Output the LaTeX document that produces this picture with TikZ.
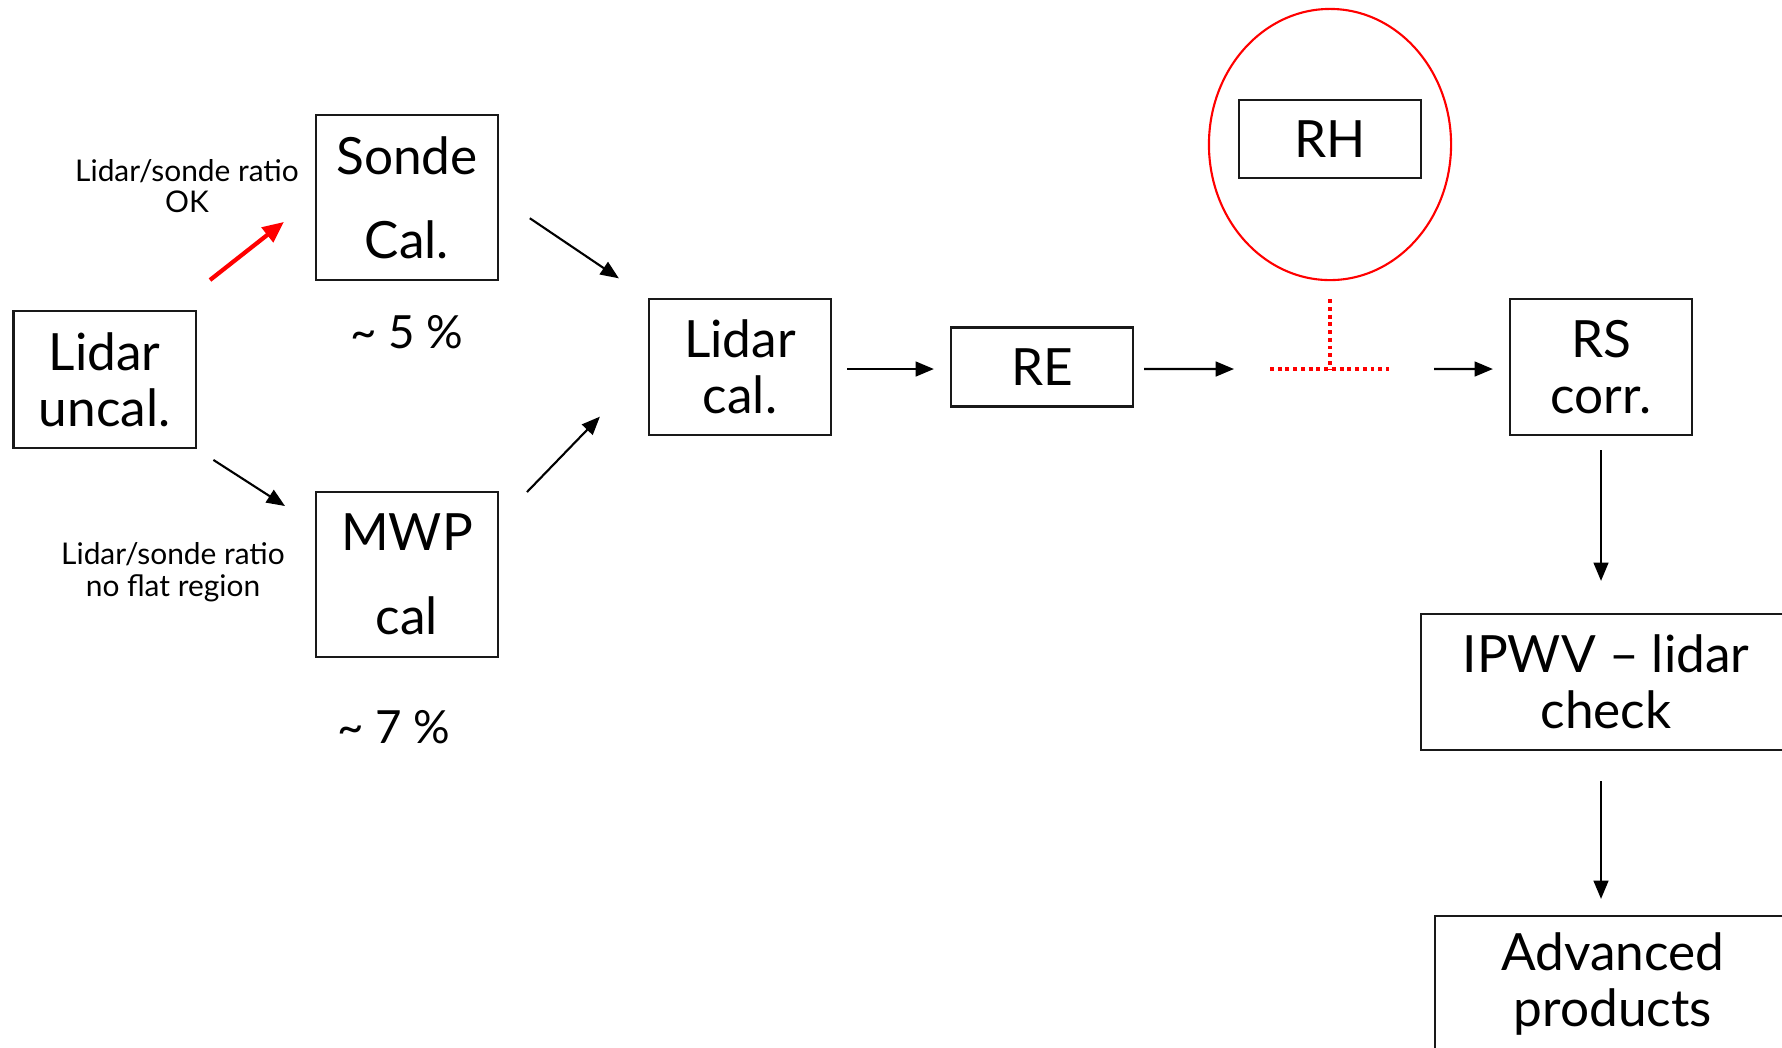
\documentclass[tikz,border=0pt]{standalone}
\usepackage{fontspec}
\setmainfont{Lato}
\usetikzlibrary{arrows.meta, shapes.geometric}

\begin{document}
\begin{tikzpicture}[x=0.01cm, y=-0.01cm,
  box/.style={draw=black!90, line width=0.6pt, minimum width=1.82cm, align=center, inner sep=0pt, font=\fontsize{14.6}{16}\selectfont},
  tallbox/.style={box, minimum height=1.65cm, font=\fontsize{14.6}{24}\selectfont},
  note/.style={align=center, font=\fontsize{8.5}{9}\selectfont},
  pct/.style={font=\fontsize{13}{13}\selectfont},
  arr/.style={-{Triangle[length=5.2pt,width=4.2pt]}, line width=0.6pt},
  redarr/.style={-{Triangle[length=6pt,width=5.2pt]}, red, line width=1.2pt},
  reddot/.style={red, line width=1.4pt, dash pattern=on 1.1pt off 1.1pt}]
\useasboundingbox (0,0) rectangle (1782,1047);
\node (uncal) at (104.5,379.5) [box, minimum height=1.37cm] {Lidar\\uncal.};
\node (sonde) at (407,197.5) [tallbox] {Sonde\\Cal.};
\node (mwp) at (407,574.5) [tallbox] {MWP\\cal};
\node (lcal) at (740,367) [box, minimum height=1.36cm] {Lidar\\cal.};
\node (re) at (1042,367) [box, minimum height=0.79cm] {RE};
\node (rh) at (1330,139) [box, minimum height=0.78cm] {RH};
\node (rhring) at (1330,144.5) [ellipse, draw=red, line width=0.6pt, minimum width=2.42cm, minimum height=2.71cm] {};
\node (rs) at (1601,367) [box, minimum height=1.36cm] {RS\\corr.};
\node (ipwv) at (1606,682) [box, minimum width=3.70cm, minimum height=1.36cm] {IPWV -- lidar\\check};
\node (adv) at (1613,984) [box, minimum width=3.56cm, minimum height=1.36cm] {Advanced\\products};
\node (oknote) at (187,186) [note] {Lidar/sonde ratio\\OK};
\node (flatnote) at (173,572) [note] {Lidar/sonde ratio\\no flat region};
\node (sondepct) at (407,332) [pct] {\textasciitilde{} 5 \%};
\node (mwppct) at (394,727) [pct] {\textasciitilde{} 7 \%};
\coordinate (okfrom) at (210,280);
\coordinate (flatto) at (285,506);
\coordinate (mwpfrom) at (527,492);
\coordinate (gapleft) at (1270,369);
\coordinate (gapright) at (1389,369);
\coordinate (gapmid) at (1330,369);
\draw [redarr, shorten >=0.395cm] (okfrom) -- (sonde.west);
\draw [arr, shorten <=0.2cm] (uncal.south east) -- (flatto);
\draw [arr, shorten <=0.37cm, shorten >=0.35cm] (sonde.east) -- (lcal.north west);
\draw [arr, shorten >=0.69cm] (mwpfrom) -- (lcal.west);
\draw [arr, shorten <=0.15cm, shorten >=0.16cm] ([yshift=-0.02cm]lcal.east) -- ([yshift=-0.02cm]re.west);
\draw [arr, shorten <=0.10cm, shorten >=0.36cm] ([yshift=-0.02cm]re.east) -- (gapleft);
\draw [arr, shorten <=0.45cm, shorten >=0.16cm] (gapright) -- ([yshift=-0.02cm]rs.west);
\draw [reddot] (gapleft) -- (gapright);
\draw [reddot, shorten <=0.18cm] (rhring.south) -- (gapmid);
\draw [arr, shorten <=0.14cm, shorten >=0.32cm] (rs.south) -- (rs.south |- ipwv.north);
\draw [arr, shorten <=0.30cm, shorten >=0.16cm] (rs.south |- ipwv.south) -- (rs.south |- adv.north);
\end{tikzpicture}
\end{document}
